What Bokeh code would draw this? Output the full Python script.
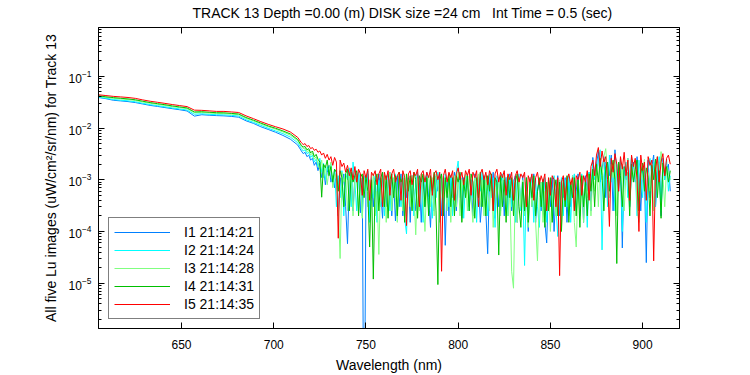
from bokeh.plotting import figure
from bokeh.models import Range1d, LogAxis, LinearAxis, Legend, LegendItem, FixedTicker, LogTicker
from bokeh.embed import file_html
from bokeh.resources import INLINE

FONT = "Liberation Sans"
NAN = float("nan")

# ---------------- data ----------------
wavelength = list(range(605, 714, 4)) + list(range(715, 916))

# I1 21:14:21 (blue)
i1 = [0.0390, 0.0370, 0.0345, 0.0335, 0.0325, 0.0311, 0.0292, 0.0274, 0.0262, 0.0249, 0.0237, 0.0226, 0.0214, 0.0170,
      0.0181, 0.0177, 0.0174, 0.0172, 0.0168, 0.0162, 0.0138, 0.0123, 0.0106, 0.0094, 0.0083, 0.0072, 0.0061, 0.0047,
      36e-4, 32e-4, 34e-4, 28e-4, 30e-4, 24e-4, 26e-4, 19e-4, 22e-4, 15e-4,
      21e-4, 11e-4, 17e-4, 8e-4, 14e-4, 19e-4, 9e-4, 12e-4, 7e-4, 15e-4,
      2e-4, 11e-4, 6e-4, 13e-4, 3e-4, 0.58e-4, 10e-4, 14e-4, 2.5e-4, 12e-4,
      9e-4, 14e-4, 2.3e-4, 11e-4, 1e-9, 6e-4, 13e-4, 2e-4, 10e-4, 3e-4,
      11e-4, 2.5e-4, 13e-4, 6e-4, 1.8e-4, 12e-4, 3e-4, 10e-4, 14e-4, 2e-4,
      9e-4, 1.6e-4, 12e-4, 3e-4, 13e-4, 2e-4, 10e-4, 4.5e-4, 11e-4, 1.5e-4,
      12e-4, 6e-4, 2.5e-4, 13e-4, 9e-4, 1.5e-4, 11e-4, 3e-4, 14e-4, 4.5e-4,
      1.2e-4, 10e-4, 2.5e-4, 12e-4, 6e-4, 13e-4, 2e-4, 11e-4, 0.54e-4, 9e-4,
      2e-4, 12e-4, 4.5e-4, 14e-4, 2.5e-4, 10e-4, 13e-4, 1.8e-4, 11e-4, 6e-4,
      12e-4, 3e-4, 10e-4, 2e-4, 13e-4, 9e-4, 11e-4, 1.5e-4, 4.5e-4, 12e-4,
      2.5e-4, 0.37e-4, 11e-4, 6e-4, 14e-4, 1.8e-4, 10e-4, 3e-4, 12e-4, 9e-4,
      2e-4, 11e-4, 4.5e-4, 13e-4, 2.5e-4, 9e-4, 12e-4, 1.5e-4, 10e-4, 3e-4,
      12e-4, 2e-4, 9e-4, 1.0e-4, 11e-4, 3e-4, 13e-4, 1.5e-4, 6e-4, 10e-4,
      2.5e-4, 10e-4, 1.5e-4, 0.6e-4, 9e-4, 3e-4, 11e-4, 1e-4, 6e-4, 12e-4,
      2e-4, 9e-4, 4.5e-4, 11e-4, 1.5e-4, 10e-4, 3e-4, 12e-4, 2.5e-4, 6e-4,
      13e-4, 3e-4, 10e-4, 1.5e-4, 12e-4, 6e-4, 14e-4, 2.5e-4, 27e-4, 12e-4,
      20e-4, 35e-4, 9e-4, 16e-4, 28e-4, 4.5e-4, 22e-4, 12e-4, 30e-4, 2.5e-4,
      38e-4, 14e-4, 6e-4, 24e-4, 0.48e-4, 18e-4, 10e-4, 26e-4, 3e-4, 16e-4,
      22e-4, 9e-4, 28e-4, 13e-4, 2.5e-4, 17e-4, 11e-4, 0.25e-4, 24e-4, 4.5e-4,
      18e-4, 30e-4, 3e-4, 14e-4, 22e-4, 2e-4, 26e-4, 10e-4, 16e-4, 20e-4,
      6e-4]

# I2 21:14:24 (cyan)
i2 = [0.0395, 0.0378, 0.0356, 0.0346, 0.0336, 0.0322, 0.0301, 0.0284, 0.0271, 0.0258, 0.0245, 0.0234, 0.0223, 0.0185,
      0.0189, 0.0184, 0.0181, 0.0180, 0.0176, 0.0171, 0.0145, 0.0129, 0.0113, 0.0099, 0.0088, 0.0078, 0.0067, 0.0052,
      40e-4, 36e-4, 38e-4, 32e-4, 34e-4, 27e-4, 30e-4, 22e-4, 25e-4, 18e-4,
      26e-4, 14e-4, 21e-4, 10e-4, 18e-4, 13e-4, 20e-4, 8e-4, 16e-4, 3e-4,
      12e-4, 4.5e-4, 15e-4, 2e-4, 13e-4, 10e-4, 17e-4, 3e-4, 22e-4, 9e-4,
      2.5e-4, 14e-4, 10e-4, 2e-4, 12e-4, 6e-4, 15e-4, 1.5e-4, 11e-4, 4.5e-4,
      12e-4, 1.5e-4, 10e-4, 3e-4, 14e-4, 2e-4, 9e-4, 13e-4, 2.5e-4, 11e-4,
      6e-4, 13e-4, 2e-4, 11e-4, 3e-4, 12e-4, 1.8e-4, 0.9e-4, 10e-4, 4.5e-4,
      12e-4, 2e-4, 9e-4, 14e-4, 3e-4, 11e-4, 1.5e-4, 10e-4, 13e-4, 2.5e-4,
      10e-4, 1.8e-4, 12e-4, 4.5e-4, 14e-4, 2.5e-4, 11e-4, 2e-4, 13e-4, 6e-4,
      3e-4, 12e-4, 2e-4, 10e-4, 14e-4, 23e-4, 4.5e-4, 11e-4, 1.8e-4, 9e-4,
      13e-4, 2.5e-4, 10e-4, 4.5e-4, 12e-4, 1.5e-4, 11e-4, 6e-4, 14e-4, 3e-4,
      10e-4, 2e-4, 13e-4, 4.5e-4, 11e-4, 1.2e-4, 12e-4, 9e-4, 2.5e-4, 13e-4,
      6e-4, 11e-4, 2e-4, 12e-4, 3e-4, 10e-4, 1.5e-4, 9e-4, 13e-4, 2.5e-4,
      9e-4, 0.22e-4, 11e-4, 2e-4, 6e-4, 12e-4, 1.5e-4, 10e-4, 3e-4, 1.2e-4,
      9e-4, 2.5e-4, 11e-4, 1.5e-4, 6e-4, 10e-4, 2e-4, 12e-4, 3e-4, 0.8e-4,
      6e-4, 11e-4, 2e-4, 10e-4, 3e-4, 12e-4, 1.5e-4, 9e-4, 13e-4, 2.5e-4,
      11e-4, 2e-4, 13e-4, 3e-4, 10e-4, 1.2e-4, 14e-4, 6e-4, 20e-4, 10e-4,
      15e-4, 24e-4, 38e-4, 0.44e-4, 12e-4, 22e-4, 3e-4, 30e-4, 9e-4, 18e-4,
      2.5e-4, 20e-4, 9e-4, 26e-4, 1e-4, 15e-4, 22e-4, 4.5e-4, 14e-4, 28e-4,
      10e-4, 18e-4, 2e-4, 24e-4, 13e-4, 4.5e-4, 20e-4, 1.5e-4, 16e-4, 26e-4,
      11e-4, 22e-4, 3e-4, 14e-4, 28e-4, 2.5e-4, 18e-4, 10e-4, 25e-4, 6e-4,
      12e-4]

# I3 21:14:28 (light green)
i3 = [0.0410, 0.0392, 0.0375, 0.0366, 0.0355, 0.0341, 0.0318, 0.0301, 0.0287, 0.0273, 0.0259, 0.0248, 0.0236, 0.0198,
      0.0200, 0.0195, 0.0191, 0.0190, 0.0186, 0.0181, 0.0154, 0.0137, 0.0120, 0.0106, 0.0095, 0.0084, 0.0073, 0.0057,
      44e-4, 40e-4, 41e-4, 35e-4, 37e-4, 30e-4, 33e-4, 25e-4, 28e-4, 20e-4,
      16e-4, 24e-4, 11e-4, 19e-4, 8e-4, 15e-4, 22e-4, 7e-4, 13e-4, 10e-4,
      3e-4, 0.3e-4, 14e-4, 9e-4, 12e-4, 2.5e-4, 11e-4, 16e-4, 2e-4, 10e-4,
      13e-4, 2.5e-4, 11e-4, 1.8e-4, 9e-4, 12e-4, 3e-4, 10e-4, 4.5e-4, 13e-4,
      2e-4, 6e-4, 0.36e-4, 11e-4, 3e-4, 12e-4, 1.5e-4, 9e-4, 14e-4, 2.5e-4,
      11e-4, 4.5e-4, 1.5e-4, 12e-4, 9e-4, 2.5e-4, 13e-4, 2e-4, 10e-4, 3e-4,
      12e-4, 6e-4, 0.86e-4, 11e-4, 2.5e-4, 13e-4, 4.5e-4, 1e-4, 10e-4, 12e-4,
      3e-4, 11e-4, 2e-4, 13e-4, 9e-4, 1.5e-4, 12e-4, 4.5e-4, 10e-4, 2.5e-4,
      11e-4, 1.5e-4, 9e-4, 12e-4, 3e-4, 14e-4, 2e-4, 10e-4, 6e-4, 13e-4,
      2.5e-4, 12e-4, 4.5e-4, 1.5e-4, 11e-4, 9e-4, 13e-4, 3e-4, 10e-4, 2e-4,
      12e-4, 6e-4, 2.5e-4, 13e-4, 1.2e-4, 10e-4, 4.5e-4, 11e-4, 2e-4, 9e-4,
      12e-4, 3e-4, 2e-4, 6e-4, 0.17e-4, 0.08e-4, 9e-4, 1.5e-4, 11e-4, 3e-4,
      10e-4, 2e-4, 6e-4, 1.2e-4, 11e-4, 3e-4, 9e-4, 1.5e-4, 0.27e-4, 4.5e-4,
      9e-4, 1.5e-4, 6e-4, 2.5e-4, 10e-4, 1e-4, 4.5e-4, 9e-4, 2e-4, 6e-4,
      10e-4, 1.2e-4, 9e-4, 3e-4, 11e-4, 2e-4, 6e-4, 12e-4, 1.5e-4, 0.5e-4,
      9e-4, 2.5e-4, 12e-4, 1.5e-4, 10e-4, 4.5e-4, 13e-4, 2e-4, 15e-4, 6e-4,
      18e-4, 3e-4, 22e-4, 10e-4, 28e-4, 40e-4, 14e-4, 4.5e-4, 20e-4, 11e-4,
      24e-4, 2e-4, 15e-4, 9e-4, 20e-4, 2.5e-4, 13e-4, 26e-4, 6e-4, 17e-4,
      11e-4, 22e-4, 3e-4, 1.5e-4, 18e-4, 10e-4, 25e-4, NAN, 14e-4, 6e-4,
      20e-4, 2.5e-4, 16e-4, 28e-4, 9e-4, 35e-4, 12e-4, 3e-4, 18e-4, 14e-4,
      10e-4]

# I4 21:14:31 (green)
i4 = [0.0420, 0.0402, 0.0388, 0.0377, 0.0366, 0.0352, 0.0330, 0.0311, 0.0296, 0.0283, 0.0268, 0.0256, 0.0245, 0.0205,
      0.0207, 0.0202, 0.0198, 0.0197, 0.0192, 0.0187, 0.0160, 0.0142, 0.0125, 0.0110, 0.0099, 0.0088, 0.0077, 0.0060,
      46e-4, 43e-4, 44e-4, 38e-4, 40e-4, 33e-4, 36e-4, 28e-4, 31e-4, 25e-4,
      22e-4, 4.6e-4, 20e-4, 17e-4, 24e-4, 12e-4, 18e-4, 9e-4, 16e-4, 14e-4,
      6e-4, 15e-4, 11e-4, 3e-4, 13e-4, 16e-4, 2.5e-4, 14e-4, 9e-4, 12e-4,
      15e-4, 2e-4, 11e-4, 13e-4, 4.5e-4, 12e-4, 6e-4, 0.5e-4, 10e-4, 0.12e-4,
      9e-4, 13e-4, 2.5e-4, 11e-4, 14e-4, 3e-4, 12e-4, 1.8e-4, 10e-4, 13e-4,
      4.5e-4, 12e-4, 2e-4, 14e-4, 9e-4, 11e-4, 1.5e-4, 13e-4, 6e-4, 12e-4,
      2.5e-4, 14e-4, 10e-4, 1.8e-4, 12e-4, 9e-4, 13e-4, 3e-4, 11e-4, 2e-4,
      12e-4, 6e-4, 14e-4, 2.5e-4, 0.094e-4, 10e-4, 13e-4, 2e-4, 11e-4, 4.5e-4,
      13e-4, 3e-4, 11e-4, 2e-4, 12e-4, 9e-4, 14e-4, 1.5e-4, 10e-4, 4.5e-4,
      12e-4, 2.5e-4, 13e-4, 9e-4, 1.8e-4, 11e-4, 4.5e-4, 14e-4, 3e-4, 10e-4,
      2e-4, 12e-4, 6e-4, 13e-4, 2.5e-4, 11e-4, 9e-4, 0.35e-4, 12e-4, 3e-4,
      10e-4, 1.5e-4, 12e-4, 4.5e-4, 11e-4, 2e-4, 9e-4, 13e-4, 3e-4, 1.2e-4,
      9e-4, 2.5e-4, 11e-4, 1.5e-4, 10e-4, 4.5e-4, 12e-4, 2e-4, 6e-4, 11e-4,
      3e-4, 10e-4, 1.2e-4, 9e-4, 2.5e-4, 11e-4, 1.5e-4, 6e-4, 10e-4, 2e-4,
      9e-4, 1e-4, 10e-4, 3e-4, 12e-4, 1.5e-4, 9e-4, 4.5e-4, 11e-4, 2e-4,
      10e-4, 1.2e-4, 12e-4, 3e-4, 9e-4, 2e-4, 13e-4, 6e-4, 16e-4, 3e-4,
      20e-4, 9e-4, 26e-4, 12e-4, 2.5e-4, 18e-4, 22e-4, 6e-4, 14e-4, 24e-4,
      10e-4, 0.24e-4, 22e-4, 12e-4, 3e-4, 18e-4, NAN, 14e-4, 2e-4, 20e-4,
      9e-4, 16e-4, 24e-4, 2.5e-4, 13e-4, 21e-4, 6e-4, 17e-4, 11e-4, 2e-4,
      19e-4, 10e-4, 25e-4, 4.5e-4, 15e-4, 1.8e-4, 21e-4, 12e-4, 18e-4, 9e-4,
      15e-4]

# I5 21:14:35 (red)
i5 = [0.0440, 0.0425, 0.0410, 0.0400, 0.0390, 0.0375, 0.0350, 0.0330, 0.0315, 0.0300, 0.0285, 0.0272, 0.0260, 0.0222,
      0.0220, 0.0215, 0.0210, 0.0210, 0.0205, 0.0200, 0.0172, 0.0152, 0.0133, 0.0118, 0.0106, 0.0096, 0.0084, 0.0066,
      52e-4, 48e-4, 50e-4, 44e-4, 46e-4, 40e-4, 42e-4, 37e-4, 39e-4, 34e-4,
      36e-4, 30e-4, 33e-4, 26e-4, 31e-4, 24e-4, 28e-4, 19e-4, 27e-4, 22e-4,
      0.74e-4, 24e-4, 18e-4, 21e-4, 14e-4, 19e-4, 12e-4, 17e-4, 10e-4, 18e-4,
      9e-4, 16e-4, 13e-4, 5e-4, 15e-4, 11e-4, 16e-4, 4e-4, 14e-4, 12e-4,
      15e-4, 8e-4, 13e-4, 16e-4, 3e-4, 14e-4, 10e-4, 15e-4, 5e-4, 13e-4,
      16e-4, 9e-4, 12e-4, 14e-4, 4e-4, 15e-4, 11e-4, 1.3e-4, 13e-4, 15e-4,
      8e-4, 14e-4, 12e-4, 16e-4, 3e-4, 13e-4, 15e-4, 9e-4, 14e-4, 11e-4,
      16e-4, 5e-4, 13e-4, 15e-4, 10e-4, 14e-4, 0.17e-4, 12e-4, 16e-4, 9e-4,
      14e-4, 11e-4, 15e-4, 4e-4, 13e-4, 17e-4, 10e-4, 14e-4, 8e-4, 15e-4,
      12e-4, 16e-4, 5e-4, 14e-4, 11e-4, 15e-4, 3e-4, 13e-4, 16e-4, 10e-4,
      14e-4, 8e-4, 15e-4, 12e-4, 2.5e-4, 13e-4, 16e-4, 9e-4, 14e-4, 11e-4,
      15e-4, 5e-4, 13e-4, 10e-4, 14e-4, 4e-4, 12e-4, 15e-4, 9e-4, 13e-4,
      11e-4, 14e-4, 3e-4, 12e-4, 9e-4, 13e-4, 4e-4, 11e-4, 14e-4, 8e-4,
      12e-4, 9e-4, 13e-4, 2.5e-4, 11e-4, 5e-4, 12e-4, 10e-4, 3e-4, 11e-4,
      0.14e-4, 9e-4, 12e-4, 4e-4, 10e-4, 13e-4, 8e-4, 11e-4, 2.5e-4, 12e-4,
      10e-4, 14e-4, 5e-4, 12e-4, 9e-4, 15e-4, 4e-4, 18e-4, 24e-4, 12e-4,
      30e-4, 42e-4, 18e-4, 36e-4, 22e-4, 28e-4, 10e-4, 1.25e-4, 26e-4, 14e-4,
      32e-4, 20e-4, 6e-4, 28e-4, 16e-4, 34e-4, 12e-4, 24e-4, 4e-4, 30e-4,
      18e-4, 26e-4, 10e-4, 1.0e-4, 30e-4, 15e-4, 22e-4, 4e-4, 28e-4, 19e-4,
      24e-4, 0.27e-4, 16e-4, 28e-4, 9e-4, 22e-4, 32e-4, 12e-4, 26e-4, 30e-4,
      20e-4]

series_names = ["I1 21:14:21", "I2 21:14:24", "I3 21:14:28", "I4 21:14:31", "I5 21:14:35"]
series_values = [i1, i2, i3, i4, i5]
series_colors = ["#0080ff", "#00ffff", "#80ff80", "#00bf00", "#ff0000"]

x_ticks = [650, 700, 750, 800, 850, 900]

title_text = "TRACK 13 Depth =0.00 (m) DISK size =24 cm\u00a0\u00a0\u00a0Int Time = 0.5 (sec)"
x_label = "Wavelength (nm)"
y_label = "All five Lu images (uW/cm\u00b2/sr/nm) for Track 13"

# ---------------- figure ----------------
p = figure(width=750, height=375, x_range=Range1d(605, 920), y_range=Range1d(1.33e-6, 0.88),
           y_axis_type="log", output_backend="svg", toolbar_location=None,
           min_border_left=98, min_border_right=71, min_border_top=27, min_border_bottom=44)
p.background_fill_color = "white"
p.border_fill_color = "white"
p.outline_line_color = "black"
p.outline_line_width = 1
p.xgrid.visible = False
p.ygrid.visible = False

p.title.text = title_text
p.title.align = "left"
p.title.offset = 94
p.title.vertical_align = "top"
p.title.text_font = FONT
p.title.text_font_size = "14px"
p.title.text_font_style = "normal"
p.title.text_color = "black"
p.title.standoff = 9

renderers = []
for vals, col in zip(series_values, series_colors):
    renderers.append(p.line(wavelength, vals, line_color=col, line_width=1))

def style_axis(ax):
    ax.axis_line_color = "black"
    ax.major_tick_line_color = "black"
    ax.minor_tick_line_color = "black"
    ax.major_tick_in = 6
    ax.major_tick_out = 0
    ax.minor_tick_in = 3
    ax.minor_tick_out = 0
    ax.major_label_text_font = FONT
    ax.major_label_text_font_size = "12px"
    ax.major_label_text_color = "black"
    ax.axis_label_text_font = FONT
    ax.axis_label_text_font_size = "14px"
    ax.axis_label_text_font_style = "normal"
    ax.axis_label_text_color = "black"

xa = p.xaxis[0]
xa.ticker = FixedTicker(ticks=x_ticks)
style_axis(xa)
xa.minor_tick_line_color = None
xa.major_label_standoff = 11
xa.axis_label = x_label
xa.axis_label_standoff = 5

ya = p.yaxis[0]
ya.ticker = LogTicker(num_minor_ticks=10)
style_axis(ya)
ya.major_label_standoff = 7
ya.axis_label = y_label
ya.axis_label_standoff = 7

top = LinearAxis(ticker=FixedTicker(ticks=x_ticks))
style_axis(top)
top.minor_tick_line_color = None
top.major_label_text_font_size = "1px"
top.major_label_text_color = None
top.major_label_standoff = 0
p.add_layout(top, "above")

right = LogAxis(ticker=LogTicker(num_minor_ticks=10))
style_axis(right)
right.major_label_text_font_size = "1px"
right.major_label_text_color = None
right.major_label_standoff = 0
p.add_layout(right, "right")

legend = Legend(items=[LegendItem(label=n, renderers=[r]) for n, r in zip(series_names, renderers)],
                location=(10, 9), margin=0, padding=5, spacing=0,
                glyph_width=56, glyph_height=18, label_height=18, label_standoff=14,
                label_text_font=FONT, label_text_font_size="14px", label_text_color="black",
                border_line_color="black", border_line_width=1,
                background_fill_color="white", background_fill_alpha=1.0)
p.add_layout(legend)

open("out.html", "w").write(file_html(p, INLINE))
